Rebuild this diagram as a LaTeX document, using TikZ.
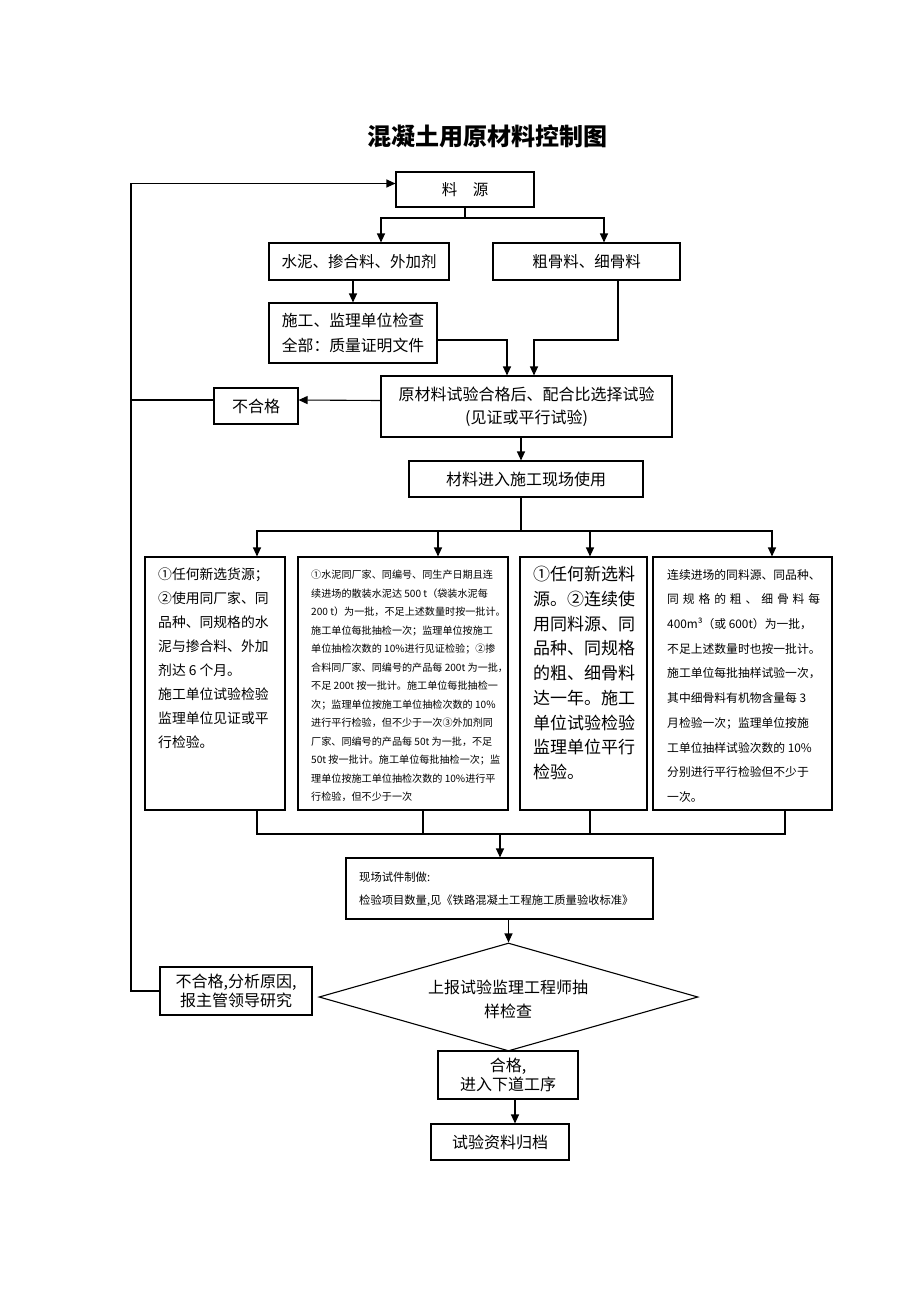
\documentclass[tikz,border=0pt]{standalone}
\usepackage{fontspec}
\setmainfont{Noto Sans CJK SC}
\usetikzlibrary{shapes.geometric,arrows.meta}
\newcommand{\fs}[2]{\fontsize{#1}{#2}\selectfont}
\begin{document}
\begin{tikzpicture}[x=1pt,y=-1pt,
  box/.style={draw, line width=1.1pt, inner sep=0pt, align=center},
  arr/.style={-{Triangle[length=9pt,width=8pt]}, line width=1.1pt},
  ln/.style={line width=1.1pt},
  txt/.style={inner sep=0pt, align=left, anchor=north west}]
\useasboundingbox (0,0) rectangle (920,1302);

% title
\node[font=\bfseries\fs{24}{28}] (title) at (487,136) {混凝土用原材料控制图};

% upper boxes
\node[box, minimum width=138pt, minimum height=35pt, font=\fs{15.5}{20}] (src) at (465,189.5) {料\hspace{1em}源};
\node[box, minimum width=180pt, minimum height=37pt, font=\fs{15.5}{20}] (cem) at (359,261.5) {水泥、掺合料、外加剂};
\node[box, minimum width=187pt, minimum height=37pt, font=\fs{15.5}{20}] (agg) at (586.5,261.5) {粗骨料、细骨料};
\node[box, align=left, minimum width=168pt, minimum height=60pt, font=\fs{15.8}{25}] (chk) at (353,333) {施工、监理单位检查\\全部：质量证明文件};
\node[box, minimum width=291pt, minimum height=61pt, font=\fs{16}{23}] (raw) at (526.5,406.5) {原材料试验合格后、配合比选择试验\\(见证或平行试验)};
\node[box, minimum width=84pt, minimum height=36pt, font=\fs{16}{20}] (ng1) at (256,406) {不合格};
\node[box, minimum width=234pt, minimum height=36pt, font=\fs{16}{20}] (use) at (526,479) {材料进入施工现场使用};

% four detail boxes
\node[box, minimum width=140pt, minimum height=253pt] (b1) at (215,683.5) {};
\node[box, minimum width=210pt, minimum height=253pt] (b2) at (403,683.5) {};
\node[box, minimum width=127pt, minimum height=253pt] (b3) at (583.5,683.5) {};
\node[box, minimum width=179pt, minimum height=253pt] (b4) at (742.5,683.5) {};

\node[txt, font=\fs{13.8}{24}] (t1) at (158,568) {①任何新选货源；\\②使用同厂家、同\\品种、同规格的水\\泥与掺合料、外加\\剂达 6 个月。\\施工单位试验检验\\监理单位见证或平\\行检验。};

\node[txt, font=\fs{10.1}{18.5}] (t2) at (311,570) {①水泥同厂家、同编号、同生产日期且连\\续进场的散装水泥达 500 t（袋装水泥每\\200 t）为一批，不足上述数量时按一批计。\\施工单位每批抽检一次；监理单位按施工\\单位抽检次数的 10\%进行见证检验；②掺\\合料同厂家、同编号的产品每 200t 为一批，\\不足 200t 按一批计。施工单位每批抽检一\\次；监理单位按施工单位抽检次数的 10\%\\进行平行检验，但不少于一次③外加剂同\\厂家、同编号的产品每 50t 为一批，不足\\50t 按一批计。施工单位每批抽检一次；监\\理单位按施工单位抽检次数的 10\%进行平\\行检验，但不少于一次};

\node[txt, font=\fs{17}{24.75}] (t3) at (533,566) {①任何新选料\\源。②连续使\\用同料源、同\\品种、同规格\\的粗、细骨料\\达一年。施工\\单位试验检验\\监理单位平行\\检验。};

\node[txt, font=\fs{11.8}{24.7}] (t4) at (667,569) {连续进场的同料源、同品种、\\\makebox[153pt][s]{同\hfill 规\hfill 格\hfill 的\hfill 粗\hfill 、\hfill 细\hfill 骨\hfill 料\hfill 每}\\400m³（或 600t）为一批，\\不足上述数量时也按一批计。\\施工单位每批抽样试验一次，\\其中细骨料有机物含量每 3\\月检验一次；监理单位按施\\工单位抽样试验次数的 10\%\\分别进行平行检验但不少于\\一次。};

% field test box
\node[box, minimum width=307pt, minimum height=61pt] (field) at (499.5,888.5) {};
\node[txt, font=\fs{11.3}{23}] (tf) at (359,872) {现场试件制做:\\检验项目数量,见《铁路混凝土工程施工质量验收标准》};

% diamond
\node[diamond, draw, line width=1.1pt, inner sep=0pt, minimum width=379pt, minimum height=108pt] (dia) at (508.5,997) {};
\node[inner sep=0pt, align=center, font=\fs{16}{24}] (dt) at (508,999) {上报试验监理工程师抽\\样检查};

\node[box, minimum width=152pt, minimum height=48pt, font=\fs{16}{19}] (ng2) at (236,991) {不合格,分析原因,\\报主管领导研究};
\node[box, minimum width=140pt, minimum height=48pt, font=\fs{16}{19}] (ok) at (508,1075) {合格,\\进入下道工序};
\node[box, minimum width=138pt, minimum height=36pt, font=\fs{16}{20}] (arc) at (500,1142) {试验资料归档};

% helper coordinates
\coordinate (fbx) at (131,0);
\coordinate (sj) at (465,218);
\coordinate (j1) at (507,340);
\coordinate (j2) at (534,340);
\coordinate (a2) at (618,0);
\coordinate (x521) at (521,0);
\coordinate (dj) at (521,531);
\coordinate (x257) at (257,0);
\coordinate (x438) at (438,0);
\coordinate (x590) at (590,0);
\coordinate (x772) at (772,0);
\coordinate (x423) at (423,0);
\coordinate (x785) at (785,0);
\coordinate (cj) at (500,834);
\coordinate (x515) at (515,0);

% connectors
\draw[arr] (ng2.west) -- (ng2.west -| fbx) |- ([yshift=6pt]src.west);
\draw[ln] ([yshift=6pt]ng1.west) -- ([yshift=6pt]ng1.west -| fbx);
\draw[arr] ([yshift=6pt]raw.west) -- ([yshift=6pt]ng1.east);

\draw[ln] (src.south) -- (sj);
\draw[arr] (sj) -| ([xshift=22pt]cem.north);
\draw[arr] (sj) -| ([xshift=17.5pt]agg.north);
\draw[arr] (cem.south -| chk.north) -- (chk.north);
\draw[arr] (chk.east |- j1) -- (j1) -- (raw.north -| j1);
\draw[arr] (agg.south -| a2) |- (j2) -- (raw.north -| j2);
\draw[arr] (raw.south -| x521) -- (use.north -| x521);

\draw[ln] (use.south -| dj) -- (dj);
\draw[arr] (dj) -| (b1.north -| x257);
\draw[arr] (dj) -| (b2.north -| x438);
\draw[arr] (dj) -| (b3.north -| x590);
\draw[arr] (dj) -| (b4.north -| x772);

\draw[ln] (b1.south -| x257) |- (cj);
\draw[ln] (b2.south -| x423) |- (cj);
\draw[ln] (b3.south -| x590) |- (cj);
\draw[ln] (b4.south -| x785) |- (cj);
\draw[arr] (cj) -- (field.north -| cj);
\draw[arr] (field.south -| dia.north) -- (dia.north);
\draw[arr] (ok.south -| x515) -- (arc.north -| x515);
\end{tikzpicture}
\end{document}
